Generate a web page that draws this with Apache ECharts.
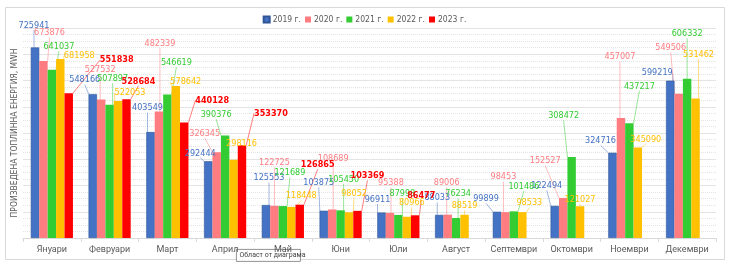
<!DOCTYPE html>
<html>
<head>
<meta charset="utf-8">
<script src="https://cdn.jsdelivr.net/npm/echarts@6/dist/echarts.min.js"></script>
<style>
  html, body { margin: 0; padding: 0; background: #fff; }
  #heat { width: 729px; height: 262px; }
</style>
</head>
<body>
<div id="heat"></div>
<script>
// месеци и години
var months = ["Януари", "Февруари", "Март", "Април", "Май", "Юни", "Юли", "Август", "Септември", "Октомври", "Ноември", "Декември"];
var years = ["2019 г.", "2020 г.", "2021 г.", "2022 г.", "2023 г."];

// произведена топлинна енергия, MWh
var y2019 = [725941, 548166, 403549, 292444, 125553, 103875, 96911, 88033, 99899, 122494, 324716, 599219];
var y2020 = [673876, 527532, 482339, 326345, 122725, 108689, 95388, 89006, 98453, 152527, 457007, 549506];
var y2021 = [641037, 507897, 546619, 390376, 121689, 105450, 87998, 76234, 101486, 308472, 437217, 606332];
var y2022 = [681958, 522053, 578642, 298116, 118448, 98052, 80966, 88519, 98533, 121027, 345090, 531462];
var y2023 = [551838, 528684, 440128, 353370, 126865, 103369, 86477, null, null, null, null, null];

var colors = ["#4472C4", "#FF7C80", "#33CC33", "#FFC000", "#FF0000"];

// отместване на етикетите спрямо върха на стълба [dx, dy]
var shift = [
  [[-1, -22], [-8, -14], [-3, -24], [-8, -8], [3, -27], [-5, -28], [-4, -13], [-2, -17], [-11, -13], [-8, -20], [-12, -12], [-13, -8]],
  [[6, -28], [-1, -30], [1, -68], [-12, -19], [0, -43], [1, -51], [1, -30], [-1, -32], [-2, -35], [-18, -37], [-1, -61], [-8, -46]],
  [[7, -23], [3, -26], [9, -32], [-9, -21], [7, -33], [3, -31], [4, -21], [2, -24], [10, -25], [-8, -41], [10, -37], [0, -45]],
  [[19, -3], [12, -8], [10, -4], [8, -16], [10, -11], [5, -19], [5, -14], [0, -9], [7, -9], [0, -7], [8, -8], [3, -44]],
  [[48, -33], [12, -18], [28, -22], [29, -32], [18, -40], [10, -35], [6, -20], [0, 0], [0, 0], [0, 0], [0, 0], [0, 0]]
];

var allData = [y2019, y2020, y2021, y2022, y2023];

var myChart = echarts.init(document.getElementById("heat"));

var narrow = "'Liberation Sans Narrow', 'DejaVu Sans Condensed', Roboto";

var series = allData.map(function (arr, s) {
  return {
    name: years[s],
    type: "bar",
    barGap: "0%",
    barCategoryGap: "27%",
    itemStyle: {
      color: colors[s],
      borderColor: s === 0 ? "#2F5597" : "rgba(255,255,255,0.3)",
      borderWidth: s === 0 ? 0.6 : 0
    },
    label: {
      show: true,
      position: "top",
      distance: 0,
      color: colors[s],
      fontFamily: narrow,
      fontSize: 9,
      fontWeight: s === 4 ? "bold" : "normal"
    },
    labelLine: {
      show: true,
      lineStyle: { color: colors[s], width: 1, opacity: 0.5 }
    },
    data: arr
  };
});

myChart.setOption({
  animation: false,
  color: colors,
  legend: {
    top: 10,
    left: "center",
    icon: "rect",
    itemWidth: 6,
    itemHeight: 6,
    itemGap: 4,
    textStyle: { color: "#595959", fontSize: 8.5, fontFamily: narrow, padding: [0, 0, 0, -2] },
    data: years
  },
  grid: { left: 23, right: 13, top: 28, bottom: 24 },
  xAxis: {
    type: "category",
    data: months,
    axisLine: { lineStyle: { color: "#d9d9d9" } },
    axisTick: { show: true, length: 4, lineStyle: { color: "#d9d9d9" } },
    axisLabel: { interval: 0, color: "#595959", fontSize: 9, fontFamily: "Roboto", margin: 7 }
  },
  yAxis: {
    type: "value",
    min: 0,
    max: 800000,
    interval: 100000,
    name: "ПРОИЗВЕДЕНА ТОПЛИННА ЕНЕРГИЯ, MWH",
    nameLocation: "middle",
    nameRotate: 90,
    nameGap: 4,
    nameTextStyle: { color: "#595959", fontSize: 8.5, fontFamily: narrow },
    axisLabel: { show: false },
    axisLine: { show: false },
    axisTick: { show: false },
    splitLine: { show: true, lineStyle: { color: "#e4e4e4", width: 1 } },
    minorTick: { show: false, splitNumber: 4 },
    minorSplitLine: { show: true, lineStyle: { color: "#e4e4e4", type: "dotted" } }
  },
  labelLayout: function (p) {
    var d = shift[p.seriesIndex][p.dataIndex];
    var cx = p.rect.x + p.rect.width / 2;
    var lx = cx + d[0];
    var ly = p.rect.y + d[1];
    var out = { x: lx, y: ly, align: "center", verticalAlign: "middle" };
    if (Math.abs(d[1]) > 16 || Math.abs(d[0]) > 14) {
      var ex = d[0] > 14 ? lx - p.labelRect.width / 2 - 1 : lx;
      var ey = d[0] > 14 ? ly : ly + 5;
      out.labelLinePoints = [[cx, p.rect.y], [ex, ey], [ex, ey]];
    } else {
      out.labelLinePoints = [[cx, p.rect.y], [cx, p.rect.y], [cx, p.rect.y]];
    }
    return out;
  },
  graphic: [
    {
      type: "rect",
      left: 3, top: 5,
      shape: { width: 719, height: 252 },
      style: { fill: "none", stroke: "#d9d9d9", lineWidth: 1 },
      silent: true
    },
    {
      type: "group",
      left: 236, top: 249,
      children: [
        { type: "rect", shape: { width: 64, height: 12 }, style: { fill: "#fff", stroke: "#767676", lineWidth: 0.8 } },
        { type: "text", left: 3, top: 2, style: { text: "Област от диаграма", fill: "#444", font: "7px Roboto" } }
      ]
    }
  ],
  series: series
});
</script>
</body>
</html>
